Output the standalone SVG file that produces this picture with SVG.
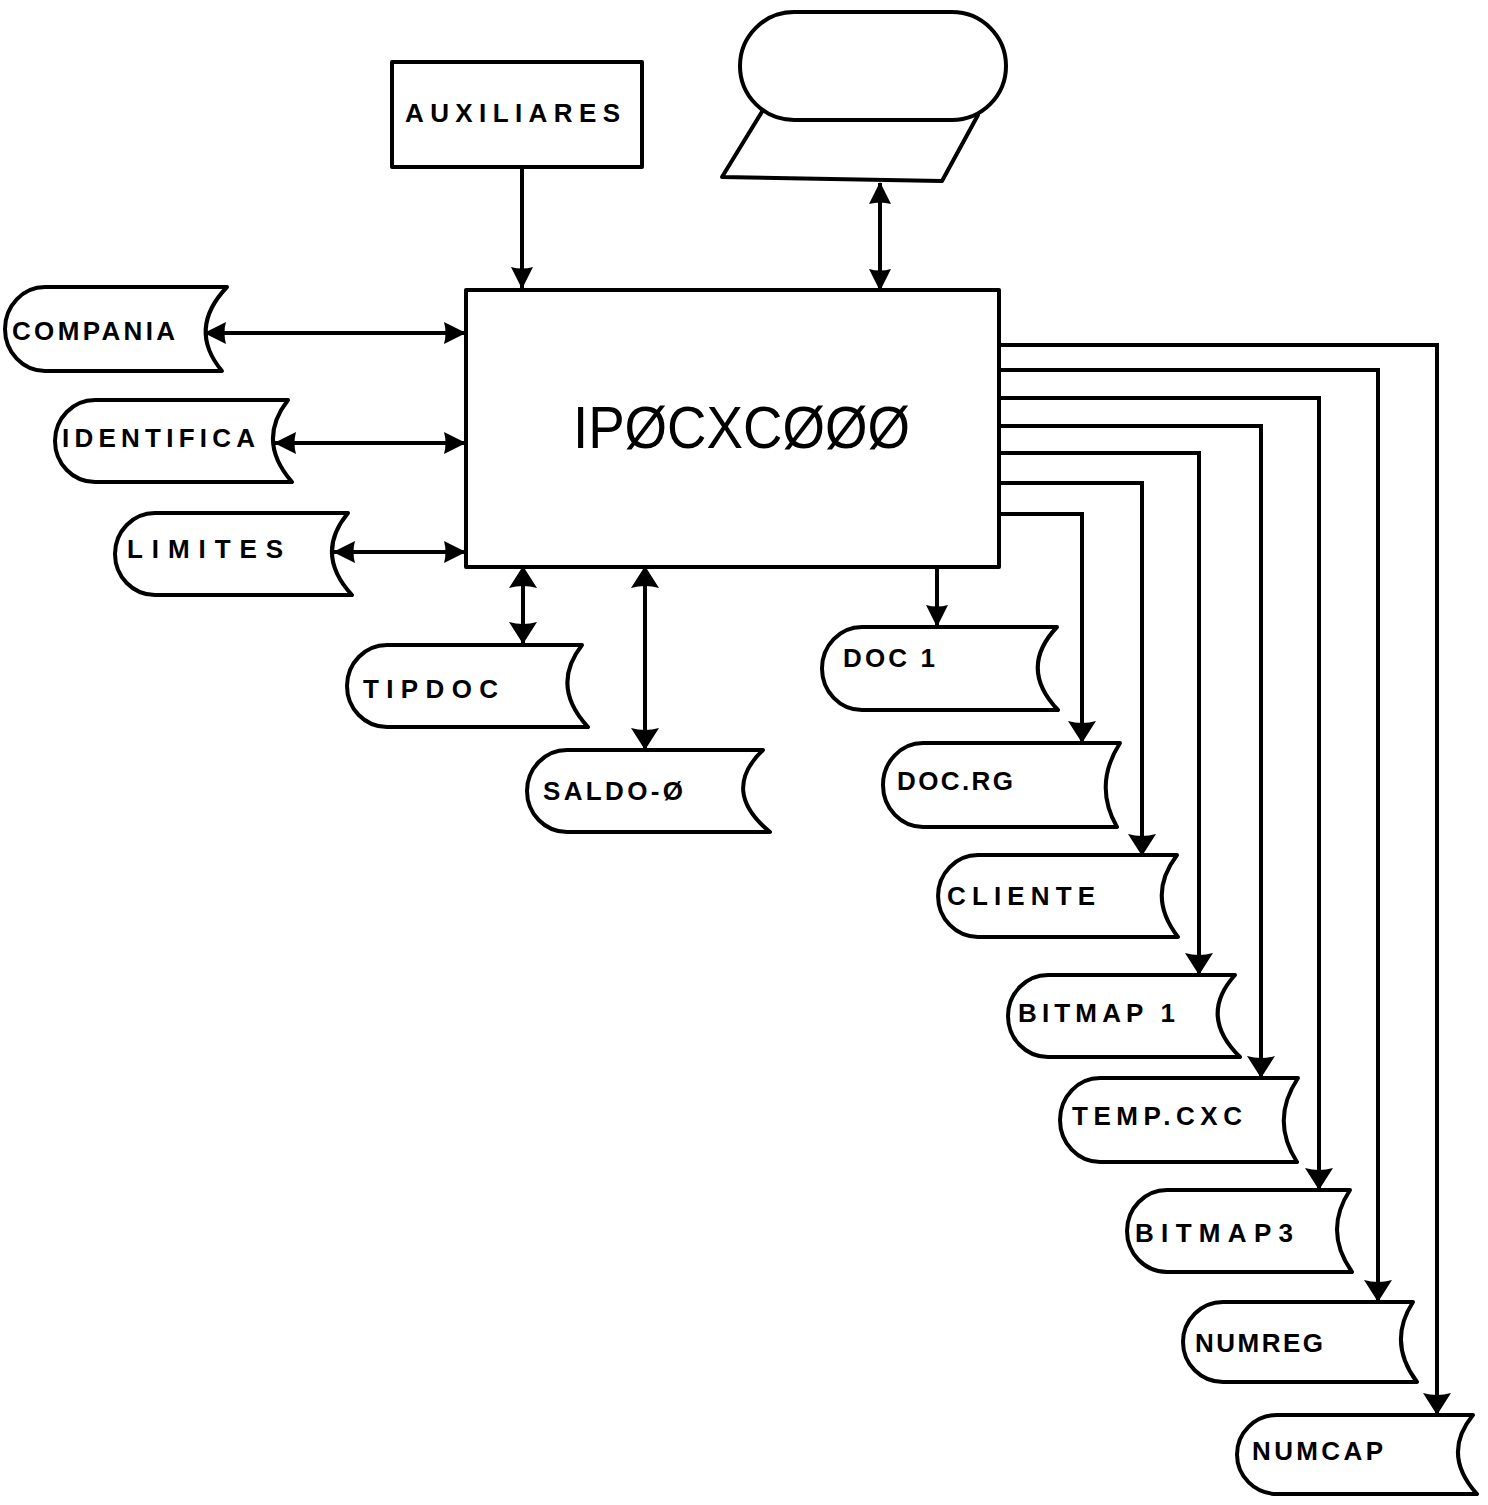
<svg xmlns="http://www.w3.org/2000/svg" width="1488" height="1505" viewBox="0 0 1488 1505">
<style>
.shape{fill:#fff;stroke:#000;stroke-width:4;stroke-linejoin:round}
.conn{fill:none;stroke:#000;stroke-width:4}
.lbl{font-family:"Liberation Sans",Arial,sans-serif;font-size:26px;font-weight:bold;fill:#000}
.big{font-family:"Liberation Sans",Arial,sans-serif;font-size:60px;fill:#000}
</style>
<defs>
<marker id="ah" viewBox="0 0 22 30" refX="21" refY="15" markerWidth="22" markerHeight="30" markerUnits="userSpaceOnUse" orient="auto-start-reverse">
<path d="M0,1 Q4,15 0,29 L22,15 Z" fill="#000"/>
</marker>
<marker id="ahs" viewBox="0 0 22 22" refX="21" refY="11" markerWidth="22" markerHeight="22" markerUnits="userSpaceOnUse" orient="auto-start-reverse">
<path d="M0,0 Q3,11 0,22 L22,11 Z" fill="#000"/>
</marker>
</defs>
<rect width="1488" height="1505" fill="#fff"/>

<g id="connectors">
<path class="conn" d="M522,167 V288" marker-end="url(#ahs)"/>
<path class="conn" d="M880,183 V290" marker-start="url(#ahs)" marker-end="url(#ahs)"/>
<path class="conn" d="M205,333 H465" marker-start="url(#ahs)" marker-end="url(#ahs)"/>
<path class="conn" d="M275,443 H465" marker-start="url(#ahs)" marker-end="url(#ahs)"/>
<path class="conn" d="M334,552 H465" marker-start="url(#ahs)" marker-end="url(#ahs)"/>
<path class="conn" d="M523,567 V643" marker-start="url(#ah)" marker-end="url(#ah)"/>
<path class="conn" d="M645,567 V749" marker-start="url(#ah)" marker-end="url(#ah)"/>
<path class="conn" d="M937,567 V626" marker-end="url(#ahs)"/>
<path class="conn" d="M999,514 H1082 V742" marker-end="url(#ah)"/>
<path class="conn" d="M999,483 H1142 V855" marker-end="url(#ah)"/>
<path class="conn" d="M999,453 H1199 V974" marker-end="url(#ah)"/>
<path class="conn" d="M999,426 H1261 V1077" marker-end="url(#ah)"/>
<path class="conn" d="M999,398 H1319 V1189" marker-end="url(#ah)"/>
<path class="conn" d="M999,370 H1378 V1301" marker-end="url(#ah)"/>
<path class="conn" d="M999,345 H1437 V1414" marker-end="url(#ah)"/>
</g>

<g id="terminal">
<path class="shape" d="M763,110 L978,115 L942,181 L722,177 Z"/>
<rect class="shape" x="740" y="12" width="266" height="108" rx="54" ry="54"/>
</g>

<g id="auxiliares">
<rect class="shape" x="392" y="62" width="250" height="105"/>
<text class="lbl" x="405" y="122" textLength="215">AUXILIARES</text>
</g>

<g id="main">
<rect class="shape" x="466" y="290" width="533" height="277"/>
<text class="big" x="573" y="448" textLength="337" lengthAdjust="spacingAndGlyphs">IPØCXCØØØ</text>
</g>

<g id="compania">
<path class="shape" d="M45,287 H227 Q187,329 222,371 H45 A40,42 0 0 1 45,287 Z"/>
<text class="lbl" x="12" y="340" textLength="163">COMPANIA</text>
</g>
<g id="identifica">
<path class="shape" d="M95,400 H288 Q256,441 292,482 H95 A40,41 0 0 1 95,400 Z"/>
<text class="lbl" x="62" y="447" textLength="193">IDENTIFICA</text>
</g>
<g id="limites">
<path class="shape" d="M155,513 H348 Q314,554 352,595 H155 A40,41 0 0 1 155,513 Z"/>
<text class="lbl" x="127" y="558" textLength="156">LIMITES</text>
</g>
<g id="tipdoc">
<path class="shape" d="M387,645 H582 Q550,686 588,727 H387 A40,41 0 0 1 387,645 Z"/>
<text class="lbl" x="363" y="698" textLength="135">TIPDOC</text>
</g>
<g id="saldo">
<path class="shape" d="M567,750 H763 Q720,791 770,832 H567 A40,41 0 0 1 567,750 Z"/>
<text class="lbl" x="543" y="800" textLength="140">SALDO-Ø</text>
</g>
<g id="doc1">
<path class="shape" d="M862,627 H1057 Q1018,668 1058,710 H862 A40,41.5 0 0 1 862,627 Z"/>
<text class="lbl" x="843" y="667" textLength="92">DOC 1</text>
</g>
<g id="docrg">
<path class="shape" d="M923,743 H1120 Q1093,785 1117,827 H923 A40,42 0 0 1 923,743 Z"/>
<text class="lbl" x="897" y="790" textLength="116">DOC.RG</text>
</g>
<g id="cliente">
<path class="shape" d="M978,855 H1177 Q1146,896 1178,937 H978 A40,41 0 0 1 978,855 Z"/>
<text class="lbl" x="947" y="905" textLength="148">CLIENTE</text>
</g>
<g id="bitmap1">
<path class="shape" d="M1048,975 H1235 Q1198,1016 1240,1057 H1048 A40,41 0 0 1 1048,975 Z"/>
<text class="lbl" x="1018" y="1022" textLength="157">BITMAP 1</text>
</g>
<g id="tempcxc">
<path class="shape" d="M1100,1078 H1298 Q1270,1120 1297,1162 H1100 A40,42 0 0 1 1100,1078 Z"/>
<text class="lbl" x="1072" y="1125" textLength="170">TEMP.CXC</text>
</g>
<g id="bitmap3">
<path class="shape" d="M1167,1190 H1350 Q1323,1231 1352,1272 H1167 A40,41 0 0 1 1167,1190 Z"/>
<text class="lbl" x="1135" y="1242" textLength="158">BITMAP3</text>
</g>
<g id="numreg">
<path class="shape" d="M1223,1302 H1413 Q1387,1342 1417,1382 H1223 A40,40 0 0 1 1223,1302 Z"/>
<text class="lbl" x="1195" y="1352" textLength="128">NUMREG</text>
</g>
<g id="numcap">
<path class="shape" d="M1277,1415 H1473 Q1441,1454 1477,1494 H1277 A40,39.5 0 0 1 1277,1415 Z"/>
<text class="lbl" x="1252" y="1460" textLength="131">NUMCAP</text>
</g>
</svg>
